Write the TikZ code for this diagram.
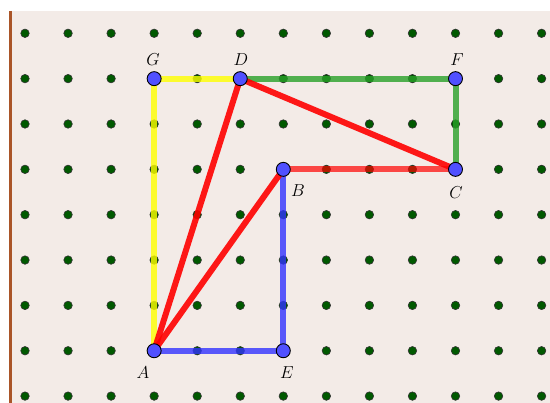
\documentclass[tikz,border=0pt]{standalone}
\begin{document}
\begin{tikzpicture}[x=1pt,y=-1pt,
  griddot/.style={circle,draw=black!80,line width=0.6pt,fill=green!35!black,minimum size=8.5pt,inner sep=0pt},
  pt/.style={circle,draw=black,line width=0.9pt,fill=ptblue,minimum size=14pt,inner sep=0pt},
  seg/.style={line width=6pt,line cap=round},
  lbl/.style={font=\fontsize{18}{21}\selectfont}
]
\definecolor{bg}{RGB}{243,235,231}
\definecolor{ptblue}{RGB}{80,80,255}
\definecolor{brownline}{RGB}{170,85,40}
\definecolor{segyellow}{RGB}{255,255,0}
\definecolor{seggreen}{RGB}{40,160,40}
\definecolor{segred}{RGB}{255,0,0}
\definecolor{segblue}{RGB}{50,50,255}
\useasboundingbox (0,0) rectangle (550,403);
\fill[white] (0,0) rectangle (550,403);
\fill[bg] (10,11) rectangle (550,403);
\draw[brownline,line width=3pt] (10.5,11) -- (10.5,403);
% grid dots
\foreach \i in {0,...,12}{
  \foreach \j in {0,...,8}{
    \node[griddot] (g\i-\j) at ({25+43.05*\i},{33.3+45.35*\j}) {};
  }
}
% points coordinates
\coordinate (cG) at ({25+43.05*3},{33.3+45.35*1});
\coordinate (cD) at ({25+43.05*5},{33.3+45.35*1});
\coordinate (cF) at ({25+43.05*10},{33.3+45.35*1});
\coordinate (cC) at ({25+43.05*10},{33.3+45.35*3});
\coordinate (cB) at ({25+43.05*6},{33.3+45.35*3});
\coordinate (cA) at ({25+43.05*3},{33.3+45.35*7});
\coordinate (cE) at ({25+43.05*6},{33.3+45.35*7});
% segments
\draw[seg,segyellow,opacity=0.8] (cA) -- (cG) -- (cD);
\draw[seg,seggreen,opacity=0.8] (cD) -- (cF) -- (cC);
\draw[seg,segblue,opacity=0.8] (cB) -- (cE) -- (cA);
\draw[seg,segred,opacity=0.7] (cB) -- (cC);
\draw[seg,segred,opacity=0.9] (cA) -- (cD);
\draw[seg,segred,opacity=0.9] (cA) -- (cB);
\draw[seg,segred,opacity=0.9] (cD) -- (cC);
% points
\node[pt] (G) at (cG) {};
\node[pt] (D) at (cD) {};
\node[pt] (F) at (cF) {};
\node[pt] (C) at (cC) {};
\node[pt] (B) at (cB) {};
\node[pt] (A) at (cA) {};
\node[pt] (E) at (cE) {};
% labels
\node[lbl] (lG) at (153,60) {$G$};
\node[lbl] (lD) at (241,60) {$D$};
\node[lbl] (lF) at (457,60) {$F$};
\node[lbl] (lC) at (456,193) {$C$};
\node[lbl] (lB) at (298,191) {$B$};
\node[lbl] (lA) at (143,373) {$A$};
\node[lbl] (lE) at (287,373) {$E$};
\end{tikzpicture}
\end{document}
